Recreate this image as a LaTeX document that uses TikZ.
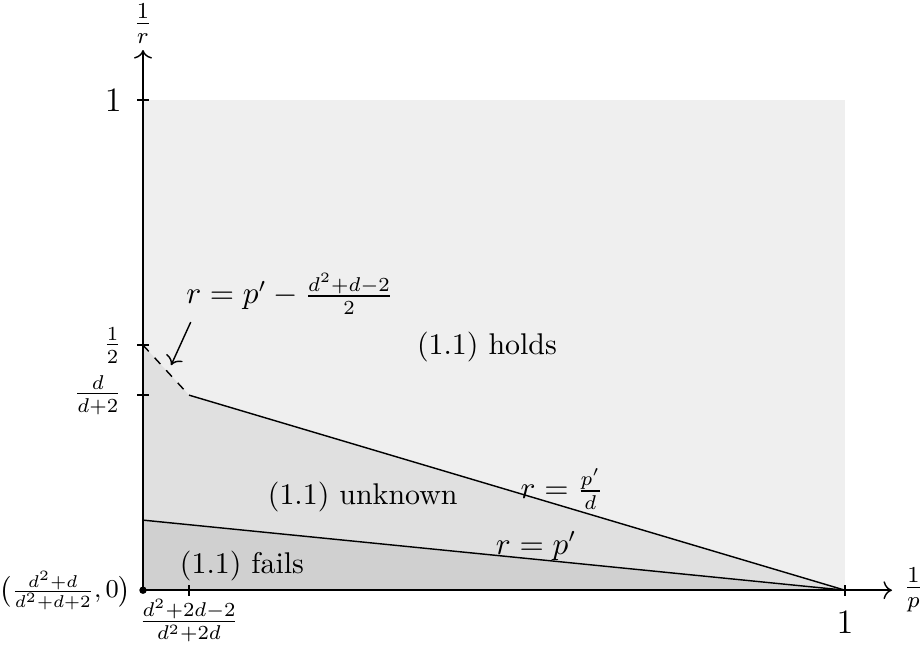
\documentclass[tikz,border=0pt]{standalone}
\usepackage{amsmath,amssymb}
\usetikzlibrary{arrows.meta,calc,positioning}
\definecolor{holdgray}{HTML}{EFEFEF}
\definecolor{unkgray}{HTML}{E0E0E0}
\definecolor{failgray}{HTML}{D0D0D0}
\tikzset{bdline/.style={line width=.5pt,black},axisline/.style={line width=.5pt,-{To[length=3pt]}},tickmark/.style={line width=.5pt},note/.style={font=\fontsize{10.5}{12.5}\selectfont,align=center}}

\begin{document}
\begin{tikzpicture}[x=8.65cm,y=6.04cm,every node/.style={font=\fontsize{10.5}{12.5}\selectfont}]
\useasboundingbox (-0.2037,-0.1265) rectangle (1.1097,1.2041);
% regions
\coordinate (O) at (0,0);
\coordinate (half) at (0,.5);
\coordinate (kink) at (.0655,.398);
\coordinate (lowl) at (0,.143);
\coordinate (one) at (1,0);
\fill[holdgray] (O) rectangle (1,1);
\fill[unkgray] (half) -- (kink) -- (one) -- (O) -- cycle;
\fill[failgray] (lowl) -- (one) -- (O) -- cycle;
% boundary lines
\draw[bdline,dashed] (half) -- (kink);
\draw[bdline] (kink) -- (one);
\draw[bdline] (lowl) -- (one);
% axes
\coordinate (xend) at (1.067,0);
\coordinate (yend) at (0,1.102);
\draw[axisline] (O) -- (xend);
\draw[axisline] (O) -- (yend);
\node[right=3pt of xend,inner sep=1pt,font=\large] (xlab) {$\frac{1}{p}$};
\node[above=1pt of yend,inner sep=1pt,font=\large] (ylab) {$\frac{1}{r}$};
% ticks
\foreach \yy/\nm in {1/yone,.5/yhalf,.398/ykink}{
 \draw[tickmark] (-.008,\yy) -- (.008,\yy);
 \coordinate (\nm) at (-.008,\yy);
}
\foreach \xx/\nm in {.0655/xkink,1/xone}{
 \draw[tickmark] (\xx,-.011) -- (\xx,.011);
 \coordinate (\nm) at (\xx,-.011);
}
\node[left=2pt of yone,font=\large] (lone) {$1$};
\node[left=2pt of yhalf] (lhalf) {$\frac{1}{2}$};
\node[left=2pt of ykink] (lkink) {$\frac{d}{d+2}$};
\node[below=2pt of xone,font=\large] (lxone) {$1$};
\node[below=0pt of xkink,inner sep=1pt] (lxkink) {$\frac{d^2+2d-2}{d^2+2d}$};
\fill (O) circle (1.3pt);
\node[left=3pt of O,inner sep=1pt,font=\fontsize{9}{11}\selectfont] (lorig) {$\bigl(\frac{d^2+d}{d^2+d+2},0\bigr)$};
% labels
\node[note] (holds) at (.49,.496) {(1.1) holds};
\node[note] (unknown) at (.313,.19) {(1.1) unknown};
\node[note] (fails) at (.141,.049) {(1.1) fails};
\node[note] (lpd) at (.597,.206) {$r=\frac{p'}{d}$};
\node[note] (lp) at (.56,.09) {$r=p'$};
\node[note] (ldash) at (.209,.604) {$r=p'-\frac{d^2+d-2}{2}$};
\coordinate (arrs) at (.068,.547);
\coordinate (arre) at (.04,.459);
\draw[line width=.5pt,-{To[length=3pt]}] (arrs) -- (arre);
\end{tikzpicture}
\end{document}
